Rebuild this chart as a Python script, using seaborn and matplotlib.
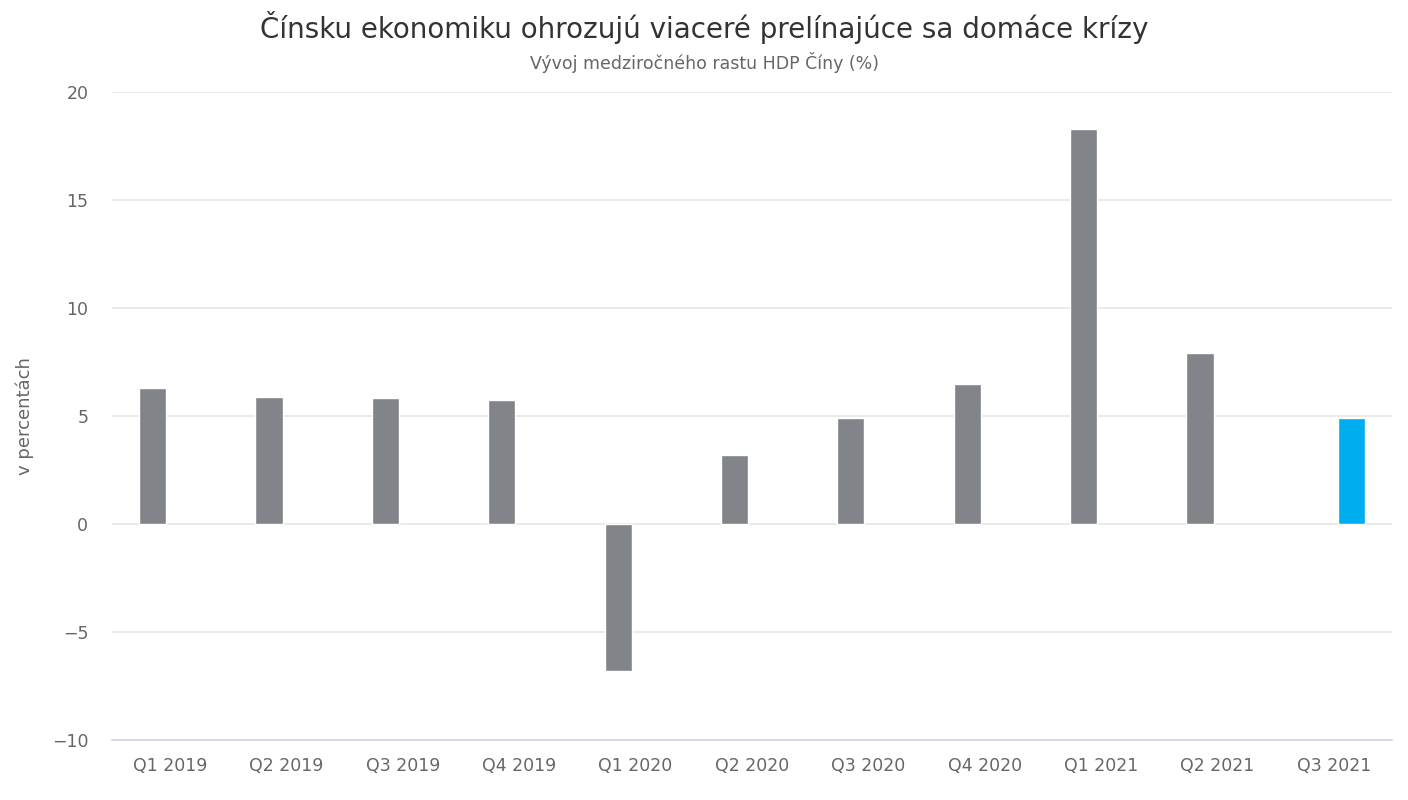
import pandas as pd
import matplotlib.pyplot as plt
import seaborn as sns

kvartaly = ['Q1 2019', 'Q2 2019', 'Q3 2019', 'Q4 2019', 'Q1 2020', 'Q2 2020',
            'Q3 2020', 'Q4 2020', 'Q1 2021', 'Q2 2021', 'Q3 2021']
rast_hdp = [6.3, 5.9, 5.85, 5.75, -6.8, 3.2, 4.9, 6.5, 18.3, 7.9]
posledny_kvartal = ['Q3 2021']
posledny_rast = [4.9]

sns.set_theme(style='white')
plt.rcParams['font.family'] = ['DejaVu Sans']

df = pd.DataFrame({
    'kvartal': kvartaly[:len(rast_hdp)] + posledny_kvartal,
    'rast': rast_hdp + posledny_rast,
    'seria': ['historia'] * len(rast_hdp) + ['aktual'] * len(posledny_rast),
})

fig = plt.figure(figsize=(14.08, 8), dpi=100)
ax = fig.add_axes([0.0795, 0.075, 0.9091, 0.81])

sns.barplot(data=df, x='kvartal', y='rast', hue='seria', order=kvartaly,
            hue_order=['historia', 'aktual'],
            palette={'historia': '#818488', 'aktual': '#00aeef'},
            saturation=1, width=0.6, gap=0.22, dodge=True,
            edgecolor='white', linewidth=1, legend=False, ax=ax, zorder=3)

ax.set_ylim(-10, 20)
ax.set_yticks(range(-10, 21, 5))
ax.set_yticklabels(['\u221210', '\u22125', '0', '5', '10', '15', '20'])
ax.set_xlim(-0.5, len(kvartaly) - 0.5)
ax.grid(axis='y', color='#e6e6e6', linewidth=1.2, zorder=0)
ax.set_axisbelow(True)
for s in ['top', 'right', 'left']:
    ax.spines[s].set_visible(False)
ax.spines['bottom'].set_color('#ccd6eb')
ax.spines['bottom'].set_linewidth(1.2)
ax.spines['bottom'].set_zorder(4)
ax.tick_params(axis='both', length=0, colors='#666666', labelsize=12.5)
ax.tick_params(axis='x', pad=12)
ax.tick_params(axis='y', pad=17)

ax.set_xlabel('')
ax.set_ylabel('v percentách', fontsize=13, color='#666666')
ax.yaxis.set_label_coords(-0.061, 0.5)

fig.text(0.5, 0.966, 'Čínsku ekonomiku ohrozujú viaceré prelínajúce sa domáce krízy',
         ha='center', va='center', fontsize=20, color='#333333')
fig.text(0.5, 0.922, 'Vývoj medziročného rastu HDP Číny (%)',
         ha='center', va='center', fontsize=12.5, color='#666666')

plt.savefig('out.png', dpi=100)
